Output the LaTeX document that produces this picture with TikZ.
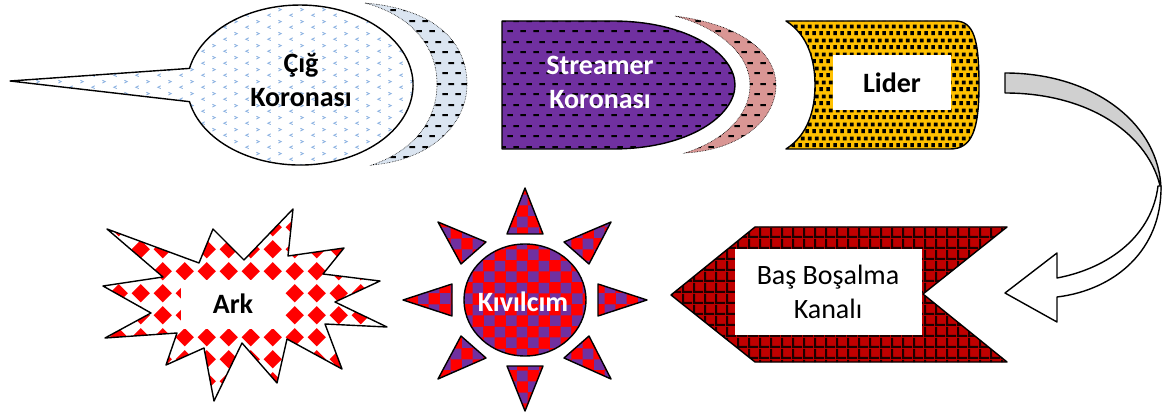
\documentclass[tikz,border=0pt]{standalone}
\usepackage{fontspec}
\setmainfont{Carlito}
\usetikzlibrary{patterns}

\definecolor{palecyan}{HTML}{DBE5F1}
\definecolor{skyblue}{HTML}{8DB3E2}
\definecolor{violet}{HTML}{7030A0}
\definecolor{rosepink}{HTML}{D99694}
\definecolor{amber}{HTML}{FFC000}
\definecolor{darkred}{HTML}{C00000}
\definecolor{arrowgray}{HTML}{D0D0D0}

% small fill patterns
\pgfdeclarepatternformonly{chevrons}{\pgfpointorigin}{\pgfpoint{22pt}{12pt}}{\pgfpoint{22pt}{12pt}}{
  \pgfsetlinewidth{0.9pt}
  \pgfpathmoveto{\pgfpoint{7pt}{1.5pt}}\pgfpathlineto{\pgfpoint{4pt}{3pt}}\pgfpathlineto{\pgfpoint{7pt}{4.5pt}}
  \pgfpathmoveto{\pgfpoint{15pt}{7.5pt}}\pgfpathlineto{\pgfpoint{18pt}{9pt}}\pgfpathlineto{\pgfpoint{15pt}{10.5pt}}
  \pgfusepath{stroke}}
\pgfdeclarepatternformonly{dashes}{\pgfpointorigin}{\pgfpoint{13pt}{21pt}}{\pgfpoint{13pt}{21pt}}{
  \pgfpathrectangle{\pgfpoint{0.3pt}{4pt}}{\pgfpoint{6pt}{2pt}}
  \pgfpathrectangle{\pgfpoint{6.8pt}{14.5pt}}{\pgfpoint{6pt}{2pt}}
  \pgfusepath{fill}}
\pgfdeclarepatternformonly{confetti}{\pgfpointorigin}{\pgfpoint{7pt}{14pt}}{\pgfpoint{7pt}{14pt}}{
  \pgfpathrectangle{\pgfpoint{0.3pt}{1pt}}{\pgfpoint{4.2pt}{4.2pt}}
  \pgfpathrectangle{\pgfpoint{3.3pt}{8pt}}{\pgfpoint{4.2pt}{4.2pt}}
  \pgfusepath{fill}}
\pgfdeclarepatternformonly{netgrid}{\pgfpointorigin}{\pgfpoint{11pt}{11pt}}{\pgfpoint{11pt}{11pt}}{
  \pgfpathrectangle{\pgfpointorigin}{\pgfpoint{11pt}{2.3pt}}
  \pgfpathrectangle{\pgfpointorigin}{\pgfpoint{2.3pt}{11pt}}
  \pgfusepath{fill}}
\pgfdeclarepatternformonly{checker}{\pgfpointorigin}{\pgfpoint{22pt}{22pt}}{\pgfpoint{22pt}{22pt}}{
  \pgfpathrectangle{\pgfpointorigin}{\pgfpoint{11pt}{11pt}}
  \pgfpathrectangle{\pgfpoint{11pt}{11pt}}{\pgfpoint{11pt}{11pt}}
  \pgfusepath{fill}}
\pgfdeclarepatternformonly{diamonds}{\pgfpointorigin}{\pgfpoint{21.7pt}{21.7pt}}{\pgfpoint{21.7pt}{21.7pt}}{
  \pgfpathmoveto{\pgfpoint{10.85pt}{1.6pt}}\pgfpathlineto{\pgfpoint{20.1pt}{10.85pt}}
  \pgfpathlineto{\pgfpoint{10.85pt}{20.1pt}}\pgfpathlineto{\pgfpoint{1.6pt}{10.85pt}}
  \pgfpathclose
  \pgfusepath{fill}}

\begin{document}
\begin{tikzpicture}[x=1pt, y=-1pt,
  shp/.style={draw=black, line width=1.4pt, line join=round},
  rim/.style={draw=black, line width=0.6pt, densely dotted},
  patfill/.style n args={3}{preaction={fill=#1}, pattern=#2, pattern color=#3},
  lbl/.style={font=\fontsize{28}{34}\selectfont\bfseries, align=center, inner sep=0pt},
  txtbox/.style={fill=white, inner sep=0pt, align=center}]
\useasboundingbox (0,0) rectangle (1173,414);

% Cig Koronasi
\path[rim, patfill={palecyan}{dashes}{black}]
  (365,3) .. controls (445,10) and (467,50) .. (467,84)
  .. controls (467,125) and (430,160) .. (372,165)
  .. controls (415,150) and (437,120) .. (437,84)
  .. controls (437,45) and (410,15) .. (365,3) -- cycle;
\path[shp, patfill={white}{chevrons}{skyblue}]
  (10,81) -- (189.5,68.4) arc[start angle=192, end angle=528, x radius=113, y radius=80] -- cycle;
\node[lbl] (cig) at (301,80) {Çığ\\Koronası};

% Streamer Koronasi
\path[rim, patfill={rosepink}{dashes}{black}]
  (675,16) .. controls (745,25) and (776,55) .. (776,85)
  .. controls (776,120) and (740,150) .. (685,153)
  .. controls (725,140) and (750,115) .. (750,85)
  .. controls (750,55) and (720,28) .. (675,16) -- cycle;
\path[shp, patfill={violet}{dashes}{black}]
  (502,21) -- (612,21) .. controls (690,21) and (735,55) .. (735,85)
  .. controls (735,115) and (690,149) .. (612,149) -- (502,149) -- cycle;
\node[lbl, text=white] (streamer) at (600,82) {Streamer\\Koronası};

% Lider
\path[shp, patfill={amber}{confetti}{black}]
  (786,21) -- (955,21) .. controls (974,21) and (979,40) .. (979,85)
  .. controls (979,130) and (972,149) .. (950,149) -- (786,149)
  .. controls (808,135) and (815,110) .. (815,85)
  .. controls (815,60) and (808,35) .. (786,21) -- cycle;
\node[txtbox, lbl, fill=white, minimum width=118pt, minimum height=55pt] (lider) at (892,83) {Lider};

% curved arrow
\path[shp, fill=arrowgray]
  (1005,73) .. controls (1095,73) and (1160,125) .. (1161,190)
  .. controls (1150,135) and (1090,93) .. (1005,93) -- cycle;
\path[shp, fill=white]
  (1161,186) .. controls (1162,250) and (1115,290) .. (1057,297)
  -- (1057,322) -- (1005,293) -- (1057,253) -- (1057,278)
  .. controls (1110,268) and (1152,235) .. (1158,186) -- cycle;

% Bas Bosalma Kanali
\path[shp, patfill={darkred}{netgrid}{black!85!darkred}]
  (755,227) -- (1007,227) -- (923,294) -- (1007,362) -- (755,362) -- (671,295) -- cycle;
\node[txtbox, font=\fontsize{28}{34}\selectfont, minimum width=187pt, minimum height=85pt] (kanal) at (828,292) {Baş Boşalma\\Kanalı};

% Kivilcim
\foreach \ax/\ay/\bx/\by/\cx/\cy in {525/188/507/234/543/234, 525/411/507/366/543/366,
    403/300/452/284/452/316, 647/300/598/284/598/316,
    438/222/486/242/461/264, 611/222/564/242/589/264,
    438/379/461/336/486/358, 611/379/589/336/564/358}
  \path[shp, patfill={red}{checker}{violet}] (\ax,\ay) -- (\bx,\by) -- (\cx,\cy) -- cycle;
\path[shp, patfill={red}{checker}{violet}] (525,300) ellipse[x radius=61, y radius=56];
\node[lbl, text=white] (kivilcim) at (523,302) {Kıvılcım};

% Ark
\path[shp, patfill={white}{diamonds}{red}]
  (107,229) -- (199,263) -- (213,229) -- (244,260) -- (293,209) -- (288,256)
  -- (344,248) -- (323,274) -- (380,281) -- (335,302) -- (387,327) -- (325,324)
  -- (342,369) -- (287,339) -- (277,383) -- (242,343) -- (214,401) -- (204,348)
  -- (166,365) -- (177,333) -- (105,338) -- (151,313) -- (103,286) -- (163,277) -- cycle;
\node[txtbox, lbl, fill=white, minimum width=104pt, minimum height=49pt] (ark) at (233,304) {Ark};
\end{tikzpicture}
\end{document}
